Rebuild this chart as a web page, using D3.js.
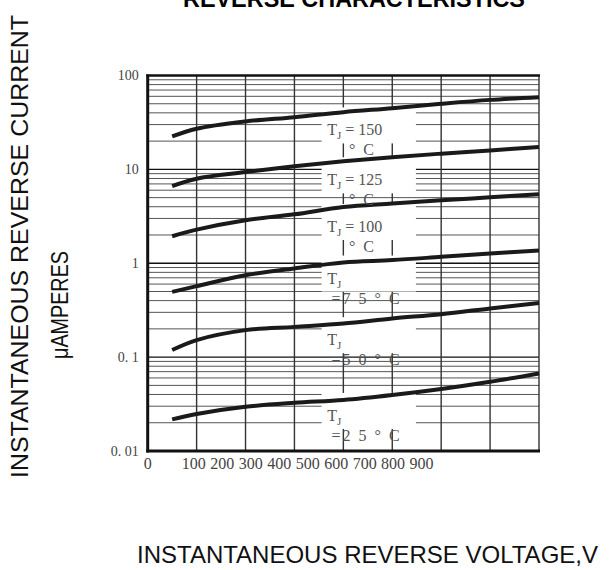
<!DOCTYPE html>
<html>
<head>
<meta charset="utf-8">
<script src="https://cdn.jsdelivr.net/npm/d3@7"></script>
<style>
  html, body { margin: 0; padding: 0; background: #fff; }
  svg { display: block; }
  text { white-space: pre; }
</style>
</head>
<body>
<div id="chart"></div>
<script>
// ---- data ----
const voltages = [50, 100, 200, 300, 400, 500, 600, 700, 800];
const tj150 = [22.4, 27.1, 32.4, 36, 40.7, 44.9, 50, 55, 58.8];
const tj125 = [6.64, 7.96, 9.36, 10.8, 12.2, 13.5, 14.7, 15.9, 17.3];
const tj100 = [1.94, 2.28, 2.87, 3.32, 3.97, 4.32, 4.68, 5.04, 5.42];
const tj75  = [0.496, 0.57, 0.745, 0.88, 1.02, 1.08, 1.17, 1.27, 1.37];
const tj50  = [0.119, 0.152, 0.194, 0.21, 0.228, 0.258, 0.287, 0.33, 0.378];
const tj25  = [0.0217, 0.0248, 0.0296, 0.0326, 0.0349, 0.0394, 0.0457, 0.0546, 0.067];

const labelTemps = ["150", "125", "100", "75", "50", "25"];
const labelCurrents = [23, 6.76, 2.15, 0.608, 0.134, 0.0209];
const labelVoltage = 367;

const yTickValues = [100, 10, 1, 0.1, 0.01];
const yTickLabels = ["100", "10", "1", "0. 1", "0. 01"];
const xGridValues = [100, 200, 300, 400, 500, 600, 700, 800];
const xTickLabels = ["100", "200", "300", "400", "500", "600", "700", "800", "900"];

const title = "REVERSE CHARACTERISTICS";
const yTitle1 = "INSTANTANEOUS REVERSE CURRENT";
const yTitle2 = "\u03BCAMPERES";
const xTitle = "INSTANTANEOUS REVERSE VOLTAGE,V";

const series = [tj150, tj125, tj100, tj75, tj50, tj25];

// ---- layout ----
const W = 611, H = 570;
const m = { left: 147.7, right: 72, top: 75.5, bottom: 119 };

const svg = d3.select("#chart").append("svg")
  .attr("width", W).attr("height", H);

const x = d3.scaleLinear().domain([0, 800]).range([m.left, W - m.right]);
const y = d3.scaleLog().domain([0.01, 100]).range([H - m.bottom, m.top]);

// minor horizontal grid
const minorVals = [];
[0.01, 0.1, 1, 10].forEach(d => { for (let k = 2; k <= 9; k++) minorVals.push(+(d * k).toPrecision(3)); });
svg.append("g").selectAll("line").data(minorVals).join("line")
  .attr("x1", x(0)).attr("x2", x(800))
  .attr("y1", d => y(d)).attr("y2", d => y(d))
  .attr("stroke", "#555").attr("stroke-width", 1);

// major horizontal grid
svg.append("g").selectAll("line").data([0.1, 1, 10]).join("line")
  .attr("x1", x(0)).attr("x2", x(800))
  .attr("y1", d => y(d)).attr("y2", d => y(d))
  .attr("stroke", "#111").attr("stroke-width", 1.3);

// vertical grid
svg.append("g").selectAll("line").data(xGridValues).join("line")
  .attr("x1", d => x(d)).attr("x2", d => x(d))
  .attr("y1", y(100)).attr("y2", y(0.01))
  .attr("stroke", "#333").attr("stroke-width", 1.4);

// white label boxes
const labelData = labelTemps.map((t, i) => ({ t, c: labelCurrents[i], idx: i }));
svg.append("g").selectAll("rect").data(labelData).join("rect")
  .attr("x", x(labelVoltage) - 5.6)
  .attr("width", 94.3)
  .attr("y", d => y(d.c) - 28)
  .attr("height", 36)
  .attr("fill", "#fff");

// frame
svg.append("line").attr("x1", x(0)).attr("x2", x(0)).attr("y1", y(100) - 1).attr("y2", y(0.01) + 1.5)
  .attr("stroke", "#111").attr("stroke-width", 3);
svg.append("line").attr("x1", x(0) - 1.5).attr("x2", x(800) + 1).attr("y1", y(0.01)).attr("y2", y(0.01))
  .attr("stroke", "#111").attr("stroke-width", 3);
svg.append("line").attr("x1", x(0) - 1.5).attr("x2", x(800) + 1).attr("y1", y(100)).attr("y2", y(100))
  .attr("stroke", "#111").attr("stroke-width", 2.5);

// curves
const line = d3.line()
  .x((d, i) => x(voltages[i]))
  .y(d => y(d))
  .curve(d3.curveCatmullRom.alpha(0.5));
svg.append("g").selectAll("path").data(series).join("path")
  .attr("d", d => line(d))
  .attr("fill", "none").attr("stroke", "#1a1a1a").attr("stroke-width", 4);

// curve labels
const lblFont = "'Liberation Serif', 'DejaVu Serif', serif";
const lg = svg.append("g").attr("fill", "#555").attr("font-family", lblFont).attr("font-size", 16);
labelData.forEach(d => {
  const lx = x(labelVoltage);
  const ly = y(d.c);
  const t1 = lg.append("text").attr("x", lx).attr("y", ly);
  t1.append("tspan").text("T");
  t1.append("tspan").attr("font-size", 11).attr("dy", 4).text("J");
  if (d.idx < 3) {
    t1.append("tspan").attr("dy", -4).text(" = " + d.t);
    lg.append("text").attr("x", lx + 21.7).attr("y", ly + 20).text("\u00B0\u00A0\u00A0C");
  } else {
    lg.append("text").attr("x", lx + 4.4).attr("y", ly + 20)
      .attr("letter-spacing", 2)
      .text("=" + d.t.split("").join(" ") + " \u00B0 C");
  }
});

// y tick labels
svg.append("g").selectAll("text").data(yTickValues).join("text")
  .attr("x", x(0) - 9).attr("y", d => y(d))
  .attr("dy", "0.35em")
  .attr("text-anchor", "end")
  .attr("font-family", lblFont).attr("font-size", 14).attr("fill", "#444")
  .text((d, i) => yTickLabels[i]);

// x tick labels
svg.append("text").attr("x", x(0)).attr("y", y(0.01) + 17.5)
  .attr("text-anchor", "middle")
  .attr("font-family", lblFont).attr("font-size", 16).attr("fill", "#444")
  .text("0");
const xl = d3.scalePoint().domain(xTickLabels).range([x(94), x(560)]);
svg.append("g").selectAll("text").data(xTickLabels).join("text")
  .attr("x", d => xl(d)).attr("y", y(0.01) + 17.5)
  .attr("text-anchor", "middle")
  .attr("font-family", lblFont).attr("font-size", 16).attr("fill", "#444")
  .text(d => d);

// titles
const sans = "'Liberation Sans', Arial, sans-serif";
svg.append("text").attr("x", 183).attr("y", 7.3)
  .attr("font-family", sans).attr("font-weight", "bold").attr("font-size", 23)
  .attr("textLength", 342).attr("lengthAdjust", "spacingAndGlyphs")
  .text(title);
svg.append("text").attr("transform", "translate(28.3,246.5) rotate(-90)")
  .attr("text-anchor", "middle")
  .attr("font-family", sans).attr("font-size", 24).attr("fill", "#111")
  .attr("textLength", 463).attr("lengthAdjust", "spacingAndGlyphs")
  .text(yTitle1);
svg.append("text").attr("transform", "translate(68.3,305) rotate(-90)")
  .attr("text-anchor", "middle")
  .attr("font-family", sans).attr("font-size", 24).attr("fill", "#111")
  .attr("textLength", 108).attr("lengthAdjust", "spacingAndGlyphs")
  .text(yTitle2);
svg.append("text").attr("x", 137).attr("y", 562.7)
  .attr("font-family", sans).attr("font-size", 24).attr("fill", "#111")
  .text(xTitle);
</script>
</body>
</html>
